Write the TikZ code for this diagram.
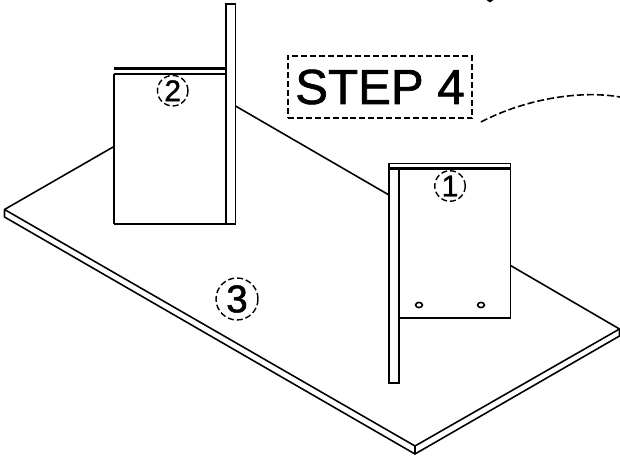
\documentclass[tikz,border=0pt]{standalone}
\usepackage{fontspec}
\setmainfont[FakeBold=1.3]{Liberation Sans}
\begin{document}
\begin{tikzpicture}[x=0.02cm, y=-0.02cm]
	\tikzstyle{every path} = [line width=0.9pt, line cap=butt, line join=miter]
	\tikzstyle{top edge} = [line width=1.2pt]
	\tikzstyle{mark circle} = [circle, draw, line width=0.8pt, dash pattern=on 3.4pt off 1.7pt, inner sep=0pt]
	\useasboundingbox (0,0) rectangle (620,456);
	% board
	\coordinate (B1) at (4.5,209.5);
	\coordinate (B2) at (415,446);
	\coordinate (B3) at (619.5,329);
	\draw (B1)--(B2)--(B3);
	\draw (4.5,209.5)--(4.5,217)--(415,454)--(619.5,336)--(619.5,329);
	\draw (415,446)--(415,454);
	\draw (4.5,209.5)--(114,146.5);
	\draw (235.5,106)--(389,195);
	\draw (510.5,265.5)--(619.5,329);
	% panel 2
	\draw (114,224)--(114,73.7);
	\draw[top edge] (114,73.7)--(226,73.7);
	\draw[top edge] (114,68.5)--(226,68.5);
	\draw (226,224)--(114,224);
	\draw (226,4)--(235.5,4)--(235.5,224)--(226,224)--cycle;
	% panel 1
	\draw (389,163.5)--(510.5,163.5)--(510.5,318)--(399,318);
	\draw[top edge] (389,168.5)--(510.5,168.5);
	\draw (389,163.5)--(389,383)--(399,383)--(399,168.5);
	\draw (419,305) ellipse (3.4 and 2.6);
	\draw (481,305) ellipse (3.4 and 2.6);
	% labels
	\node[mark circle, minimum size=0.61cm, font=\fontsize{17}{17}\selectfont] (M1) at (450,186) {1};
	\node[mark circle, minimum size=0.61cm, font=\fontsize{17}{17}\selectfont] (M2) at (172.7,90.7) {2};
	\node[mark circle, minimum size=0.84cm, font=\fontsize{22}{22}\selectfont] (M3) at (237,299) {3};
	\node[draw, dash pattern=on 3.4pt off 1.7pt, minimum width=3.69cm, minimum height=1.25cm, inner sep=0pt, font=\fontsize{28}{28}\selectfont] (S4) at (380,87) {STEP 4};
	% leader
	\coordinate (L0) at (481,122);
	\coordinate (L1) at (620,97);
	\draw[dash pattern=on 4pt off 1.7pt] (L0) .. controls (525,99) and (580,90) .. (L1);
	\fill (486.5,0)--(490,2.5)--(493.5,0)--cycle;
\end{tikzpicture}
\end{document}
